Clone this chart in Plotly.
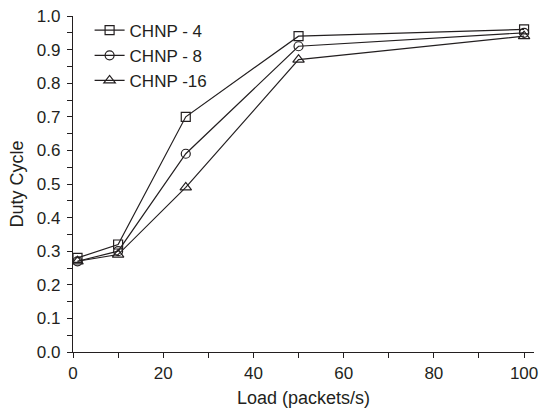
import plotly.graph_objects as go

# Offered load (packets/s) and measured duty cycle per configuration
load = [1, 10, 25, 50, 100]
chnp_4 = [0.28, 0.32, 0.70, 0.94, 0.96]
chnp_8 = [0.27, 0.30, 0.59, 0.91, 0.95]
chnp_16 = [0.27, 0.29, 0.49, 0.87, 0.94]

series = [
    ("CHNP - 4", chnp_4, "square-open", 9),
    ("CHNP - 8", chnp_8, "circle-open", 9),
    ("CHNP -16", chnp_16, "triangle-up-open", 10),
]

ink = "#231f20"
font_family = "Liberation Sans, Arial"

fig = go.Figure()
for name, vals, sym, msize in series:
    fig.add_trace(go.Scatter(
        x=load, y=vals, name=name, mode="lines+markers",
        line=dict(color=ink, width=1.2),
        marker=dict(symbol=sym, size=msize, color=ink,
                    line=dict(color=ink, width=1.2)),
    ))

axis_common = dict(
    showline=True, linecolor=ink, linewidth=1.3, mirror=False,
    ticks="outside", ticklen=5, tickwidth=1.2, tickcolor=ink,
    showgrid=False, zeroline=False,
    tickfont=dict(family=font_family, size=17, color=ink),
    title_font=dict(family=font_family, size=18, color=ink),
)

fig.update_xaxes(
    range=[0, 102.2], tick0=0, dtick=20,
    minor=dict(ticks="outside", ticklen=5, tickwidth=1.2, tickcolor=ink, dtick=10),
    title_text="Load (packets/s)", title_standoff=9,
    **axis_common,
)
fig.update_yaxes(
    range=[0, 1.0], tick0=0, dtick=0.1, tickformat=".1f",
    minor=dict(ticks="outside", ticklen=5, tickwidth=1.2, tickcolor=ink, dtick=0.05),
    title_text="Duty Cycle", title_standoff=8, ticklabelstandoff=3,
    **axis_common,
)

fig.update_layout(
    width=545, height=412,
    margin=dict(l=73, r=7, t=15, b=60),
    plot_bgcolor="white", paper_bgcolor="white",
    font=dict(family=font_family, size=17, color=ink),
    legend=dict(
        x=0.036, y=1.01, xanchor="left", yanchor="top",
        bgcolor="rgba(0,0,0,0)", borderwidth=0,
        font=dict(size=17), tracegroupgap=0, itemwidth=30,
    ),
)

fig.write_html("out.html")
